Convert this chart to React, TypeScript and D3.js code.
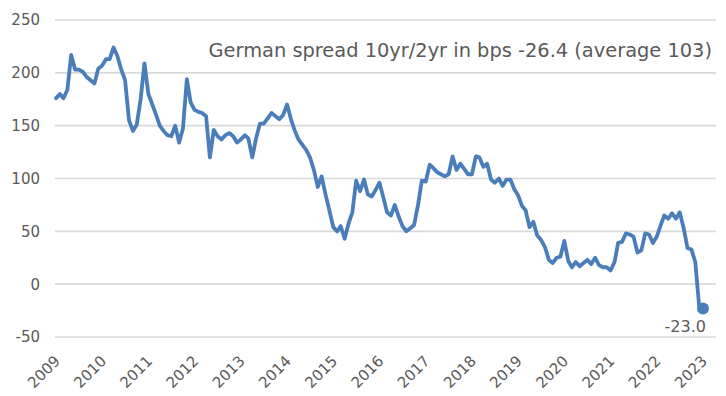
import React from 'react';
import * as d3 from 'd3';

// monthly spread in bps, Jan 2009 .. Jan 2023
const spread = [
  176, 180, 176, 184, 217, 203, 203, 201, 196, 193,
  190, 204, 207, 213, 213, 224, 216, 203, 193, 155,
  145, 151, 175, 209, 180, 170, 161, 150, 145, 141,
  140, 150, 134, 147, 194, 172, 165, 163, 162, 159,
  120, 146, 140, 137, 141, 143, 140, 134, 137, 141,
  138, 120, 138, 152, 152, 157, 162, 159, 156, 160,
  170, 156, 146, 137, 132, 127, 120, 108, 92, 102,
  85, 70, 54, 50, 55, 43, 57, 68, 98, 88,
  99, 85, 83, 89, 96, 82, 68, 65, 75, 64,
  55, 50, 53, 56, 75, 98, 97, 113, 110, 106,
  104, 102, 104, 121, 108, 114, 109, 104, 104, 121,
  120, 111, 114, 99, 96, 100, 93, 99, 99, 90,
  84, 74, 70, 54, 59, 46, 42, 35, 23, 20,
  25, 26, 41, 22, 16, 21, 17, 20, 23, 19,
  25, 18, 16, 16, 13, 21, 39, 40, 48, 47,
  45, 30, 32, 48, 47, 39, 45, 56, 65, 62,
  67, 62, 68, 53, 34, 33, 21, -20, -23,
];
const startDate = new Date(2009, 0, 1);
const years = [2009, 2010, 2011, 2012, 2013, 2014, 2015, 2016, 2017, 2018, 2019, 2020, 2021, 2022, 2023];
const yTicks = [-50, 0, 50, 100, 150, 200, 250];
const title = 'German spread 10yr/2yr in bps -26.4 (average 103)';
const lastLabel = '-23.0';

const W = 726, H = 396;
const font = '"DejaVu Sans", Verdana, sans-serif';
const grey = '#595959';
const blue = '#4a7ebb';

const App = () => {
  const data = spread.map((v, i) => ({ date: d3.timeMonth.offset(startDate, i), v }));

  const x = d3.scaleTime()
    .domain([new Date(2009, 0, 1), new Date(2023, 0, 1)])
    .range([56, 703]);
  const y = d3.scaleLinear().domain([-50, 250]).range([337, 20]);

  const line = d3.line<{ date: Date; v: number }>()
    .x(d => x(d.date))
    .y(d => y(d.v));

  const last = data[data.length - 1];

  return (
    <svg width={W} height={H} style={{ position: 'absolute', left: 0, top: 0, background: '#fff' }}>
      {/* gridlines + y labels */}
      {yTicks.map(t => (
        <g key={t}>
          <line x1={55} x2={716} y1={y(t)} y2={y(t)} stroke="#d9d9d9" strokeWidth={1.6} />
          <text x={40} y={y(t)} dy="0.36em" textAnchor="end" fontFamily={font} fontSize={15} fill={grey}>{t}</text>
        </g>
      ))}

      {/* x labels, rotated */}
      {years.map(yr => {
        const px = x(new Date(yr, 0, 1)) + 5;
        return (
          <text key={yr} transform={`translate(${px},362) rotate(-45)`} textAnchor="end"
            fontFamily={font} fontSize={15} fill={grey}>{yr}</text>
        );
      })}

      <path d={line(data) || ''} fill="none" stroke={blue} strokeWidth={3.8} strokeLinejoin="round" strokeLinecap="round" />
      <circle cx={x(last.date)} cy={y(last.v)} r={6} fill={blue} />
      <text x={706} y={332} textAnchor="end" fontFamily={font} fontSize={16} fill={grey}>{lastLabel}</text>

      <text x={712} y={57} textAnchor="end" fontFamily={font} fontSize={19.4} fill={grey}>{title}</text>
    </svg>
  );
};

export default App;
